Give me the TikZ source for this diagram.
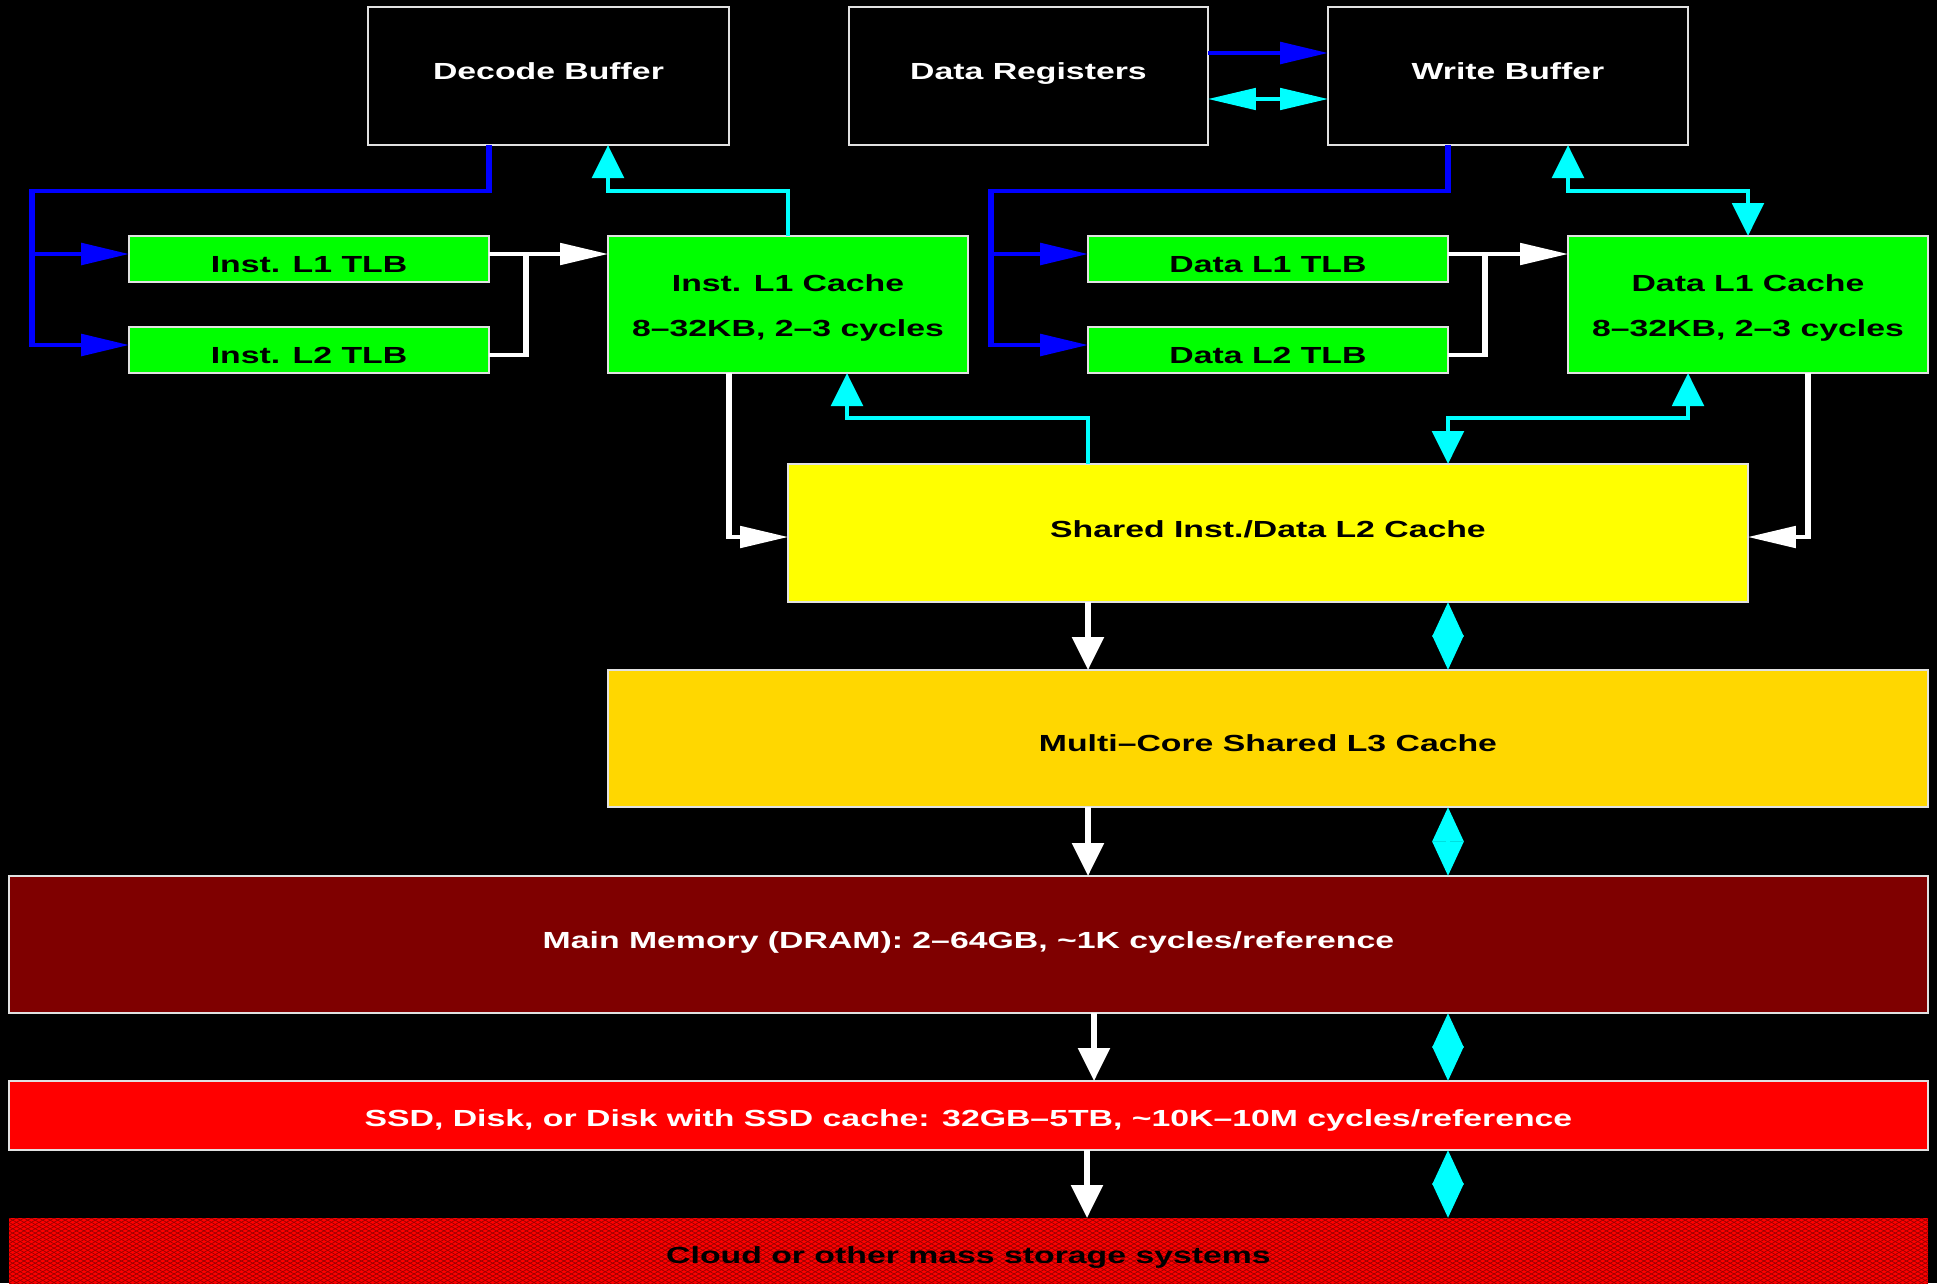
\documentclass[tikz,border=0pt]{standalone}
\usepackage{fontspec}
\newfontfamily\lblfont{Liberation Sans}
\usetikzlibrary{arrows.meta,calc}
\definecolor{cgreen}{RGB}{0,255,0}
\definecolor{cyellow}{RGB}{255,255,0}
\definecolor{cgold}{RGB}{255,215,0}
\definecolor{cmaroon}{RGB}{127,0,0}
\definecolor{cred}{RGB}{255,0,0}
\definecolor{ccyan}{RGB}{0,255,255}
\definecolor{cblue}{RGB}{0,0,255}
\definecolor{cborder}{RGB}{225,225,225}
\definecolor{chatch}{RGB}{150,0,0}
\tikzset{
  >={Triangle[length=33pt,width=21.5pt]},
  box/.style={draw=cborder, line width=1.7pt, inner sep=0pt, outer sep=0pt,
    font=\lblfont\bfseries\fontsize{23.3}{45}\selectfont, text depth=0pt},
  twoline/.style={align=center, text height=63.7pt, text depth=0pt},
  darkbox/.style={box, fill=black, text=white},
  greenbox/.style={box, fill=cgreen, text=black},
  bl/.style={draw=cblue, line width=4pt},
  cy/.style={draw=ccyan, line width=3.3pt},
  cyd/.style={draw=ccyan, line width=3.3pt, {Triangle[length=34.6pt,width=21pt]}-{Triangle[length=34.6pt,width=21pt]}},
  wh/.style={draw=white, line width=3.5pt},
  hatchline/.style={draw=chatch, line width=0.6pt},
}
\begin{document}
\begin{tikzpicture}[x=0.689655pt, y=-1pt]
\fill[black] (0pt,0pt) rectangle (1937pt,-1283pt);
\useasboundingbox (0pt,0pt) rectangle (1937pt,-1283pt);
\begin{scope}[transform canvas={xscale=1.45}]
% top buffers
\node[darkbox, text height=7.7pt, minimum width=248.97pt, minimum height=138pt] (dec) at (548.5,76) {Decode Buffer};
\node[darkbox, text height=7.7pt, minimum width=247.59pt, minimum height=138pt] (reg) at (1028.5,76) {Data Registers};
\node[darkbox, text height=7.7pt, minimum width=248.28pt, minimum height=138pt] (wb) at (1508,76) {Write Buffer};
% TLBs and L1 caches
\node[greenbox, text height=26.7pt, minimum width=248.28pt, minimum height=46pt] (itlb1) at (309,259) {Inst. L1 TLB};
\node[greenbox, text height=26.7pt, minimum width=248.28pt, minimum height=46pt] (itlb2) at (309,350) {Inst. L2 TLB};
\node[greenbox, twoline, minimum width=248.28pt, minimum height=137pt] (il1) at (788,304.5) {Inst. L1 Cache\\8–32KB, 2–3 cycles};
\node[greenbox, text height=26.7pt, minimum width=248.28pt, minimum height=46pt] (dtlb1) at (1268,259) {Data L1 TLB};
\node[greenbox, text height=26.7pt, minimum width=248.28pt, minimum height=46pt] (dtlb2) at (1268,350) {Data L2 TLB};
\node[greenbox, twoline, minimum width=248.28pt, minimum height=137pt] (dl1) at (1748,304.5) {Data L1 Cache\\8–32KB, 2–3 cycles};
% lower levels
\node[box, fill=cyellow, text height=8.1pt, minimum width=662.07pt, minimum height=138pt] (l2) at (1268,533) {Shared Inst./Data L2 Cache};
\node[box, fill=cgold, text height=25.3pt, minimum width=910.34pt, minimum height=137pt] (l3) at (1268,738.5) {Multi–Core Shared L3 Cache};
\node[box, fill=cmaroon, text=white, text height=7.7pt, minimum width=1323.45pt, minimum height=137pt] (mem) at (968.5,944.5)
  {Main Memory (DRAM): 2–64GB, \textasciitilde1K cycles/reference};
\node[box, fill=cred, text=white, text height=22.7pt, minimum width=1323.45pt, minimum height=69pt] (ssd) at (968.5,1115.5)
  {SSD, Disk, or Disk with SSD cache: 32GB–5TB, \textasciitilde10K–10M cycles/reference};
\node[box, draw=none, fill=cred, text height=13.7pt, minimum width=1323.45pt, minimum height=77pt,
  path picture={
    \foreach \n in {-257,...,17}
      \draw[hatchline] ($(path picture bounding box.north west)+(0,{\n*4.3})$) -- ++(1920,1100.8);
    \foreach \n in {0,...,273}
      \draw[hatchline] ($(path picture bounding box.north west)+(0,{\n*4.3})$) -- ++(1920,-1100.8);
  }] (cloud) at (968.5,1256.5) {Cloud or other mass storage systems};

% blue connectors
\draw[bl,->] (itlb1.east |- dec.south) -- ++(0,46) -| (32,345) -- ([yshift=5pt]itlb2.west);
\draw[bl,->] (32,254) -- ([yshift=5pt]itlb1.west);
\draw[bl,->] ([yshift=23pt]reg.east) -- ([yshift=23pt]wb.west);
\draw[bl,->] (dtlb1.east |- wb.south) -- ++(0,46) -| (991,345) -- ([yshift=5pt]dtlb2.west);
\draw[bl,->] (991,254) -- ([yshift=5pt]dtlb1.west);
% cyan connectors
\draw[cy,<->] ([yshift=-23pt]reg.east) -- ([yshift=-23pt]wb.west);
\draw[cy,->] (il1.north) -- ++(0,-45) -| (dec.south -| il1.west);
\draw[cy,<->] (dl1.west |- wb.south) -- ++(0,46) -| (dl1.north -| l2.east);
\draw[cy,->] (l2.north -| dtlb1.west) -- ++(0,-46) -| ($(il1.south)+(59,0)$);
\draw[cy,<->] (l2.north -| dtlb1.east) -- ++(0,-46) -| (dl1.south -| wb.east);
\draw[cyd] (l2.south -| dtlb1.east) -- (l3.north -| dtlb1.east);
\draw[cyd] (l3.south -| dtlb1.east) -- (mem.north -| dtlb1.east);
\draw[cyd] (mem.south -| dtlb1.east) -- (ssd.north -| dtlb1.east);
\draw[cyd] (ssd.south -| dtlb1.east) -- (cloud.north -| dtlb1.east);
% white connectors
\draw[wh,->] ([yshift=5pt]itlb1.east) -- ([yshift=50.5pt]il1.west);
\draw[wh] ([yshift=-5pt]itlb2.east) -| (526,254);
\draw[wh,->] ([yshift=5pt]dtlb1.east) -- ([yshift=50.5pt]dl1.west);
\draw[wh] ([yshift=-5pt]dtlb2.east) -| (1485,254);
\draw[wh,->] (il1.south -| dec.east) |- ([yshift=-4pt]l2.west);
\draw[wh,->] ($(dl1.south)+(60,0)$) |- ([yshift=-4pt]l2.east);
\draw[wh,->] (l2.south -| dtlb1.west) -- (l3.north -| dtlb1.west);
\draw[wh,->] (l3.south -| dtlb1.west) -- (mem.north -| dtlb1.west);
\draw[wh,->] ($(mem.south -| dtlb1.west)+(6,0)$) -- ($(ssd.north -| dtlb1.west)+(6,0)$);
\draw[wh,->] ($(ssd.south -| dtlb1.west)+(-1,0)$) -- ($(cloud.north -| dtlb1.west)+(-1,0)$);
\end{scope}
\end{tikzpicture}
\end{document}
